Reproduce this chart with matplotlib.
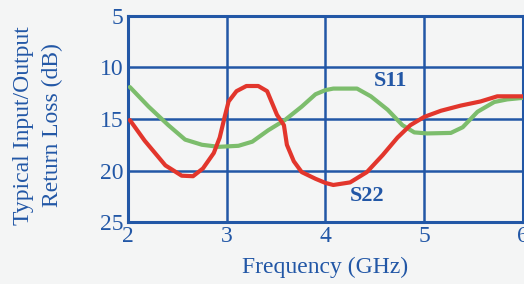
import matplotlib
matplotlib.use("Agg")
import matplotlib.pyplot as plt

# Frequency (GHz) and return loss (dB)
s11_freq = [2.02, 2.21, 2.41, 2.58, 2.75, 2.92, 3.12, 3.26, 3.42, 3.59, 3.76, 3.90,
            4.0, 4.08, 4.32, 4.46, 4.63, 4.78, 4.90, 5.03, 5.27, 5.39, 5.54, 5.71,
            5.84, 6.0]
s11_loss = [11.9, 13.8, 15.6, 17.0, 17.5, 17.7, 17.6, 17.2, 16.1, 15.1, 13.8, 12.6,
            12.2, 12.05, 12.05, 12.8, 14.1, 15.6, 16.3, 16.4, 16.35, 15.8, 14.3, 13.35,
            13.1, 12.95]

s22_freq = [2.02, 2.17, 2.38, 2.545, 2.66, 2.76, 2.87, 2.93, 2.98, 3.02, 3.10, 3.20,
            3.32, 3.41, 3.46, 3.51, 3.58, 3.61, 3.68, 3.76, 3.90, 4.0, 4.08, 4.25,
            4.42, 4.58, 4.73, 4.86, 5.0, 5.17, 5.37, 5.57, 5.74, 6.0]
s22_loss = [15.1, 17.1, 19.5, 20.5, 20.55, 19.8, 18.3, 16.8, 14.8, 13.3, 12.3, 11.8,
            11.8, 12.3, 13.45, 14.6, 15.6, 17.5, 19.1, 20.15, 20.8, 21.2, 21.4, 21.15,
            20.15, 18.5, 16.8, 15.6, 14.8, 14.2, 13.7, 13.3, 12.8, 12.8]

x_ticks = [2, 3, 4, 5, 6]
y_ticks = [5, 10, 15, 20, 25]

BLUE = "#2257a6"
GREEN = "#7cbd6c"
RED = "#e2362c"
BG = "#f4f5f5"

plt.rcParams["font.family"] = ["Liberation Serif", "DejaVu Serif"]

fig = plt.figure(figsize=(5.24, 2.84), dpi=100, facecolor=BG)
ax = fig.add_axes([0.244, 0.218, 0.754, 0.726])
ax.set_facecolor(BG)

ax.plot(s11_freq, s11_loss, color=GREEN, lw=3.0, solid_capstyle="round",
        solid_joinstyle="round", zorder=3)
ax.plot(s22_freq, s22_loss, color=RED, lw=3.0, solid_capstyle="round",
        solid_joinstyle="round", zorder=4)

ax.set_xlim(2, 6)
ax.set_ylim(25, 5)
ax.set_xticks(x_ticks)
ax.set_yticks(y_ticks)
ax.grid(True, color=BLUE, lw=1.8, zorder=1)
ax.set_axisbelow(True)
for sp in ax.spines.values():
    sp.set_color(BLUE)
    sp.set_linewidth(2.2)
ax.tick_params(length=0, colors=BLUE, labelsize=17, pad=3)

ax.set_xlabel("Frequency (GHz)", color=BLUE, fontsize=17, labelpad=7)
ax.set_ylabel("Typical Input/Output\nReturn Loss (dB)", color=BLUE, fontsize=17,
              linespacing=1.5)
ax.yaxis.set_label_coords(-0.163, 0.47)

ax.text(4.66, 11.3, "S11", color=BLUE, fontsize=16, fontweight="bold",
        ha="center", va="center")
ax.text(4.42, 22.5, "S22", color=BLUE, fontsize=16, fontweight="bold",
        ha="center", va="center")

fig.savefig("out.png", dpi=100, facecolor=BG)
